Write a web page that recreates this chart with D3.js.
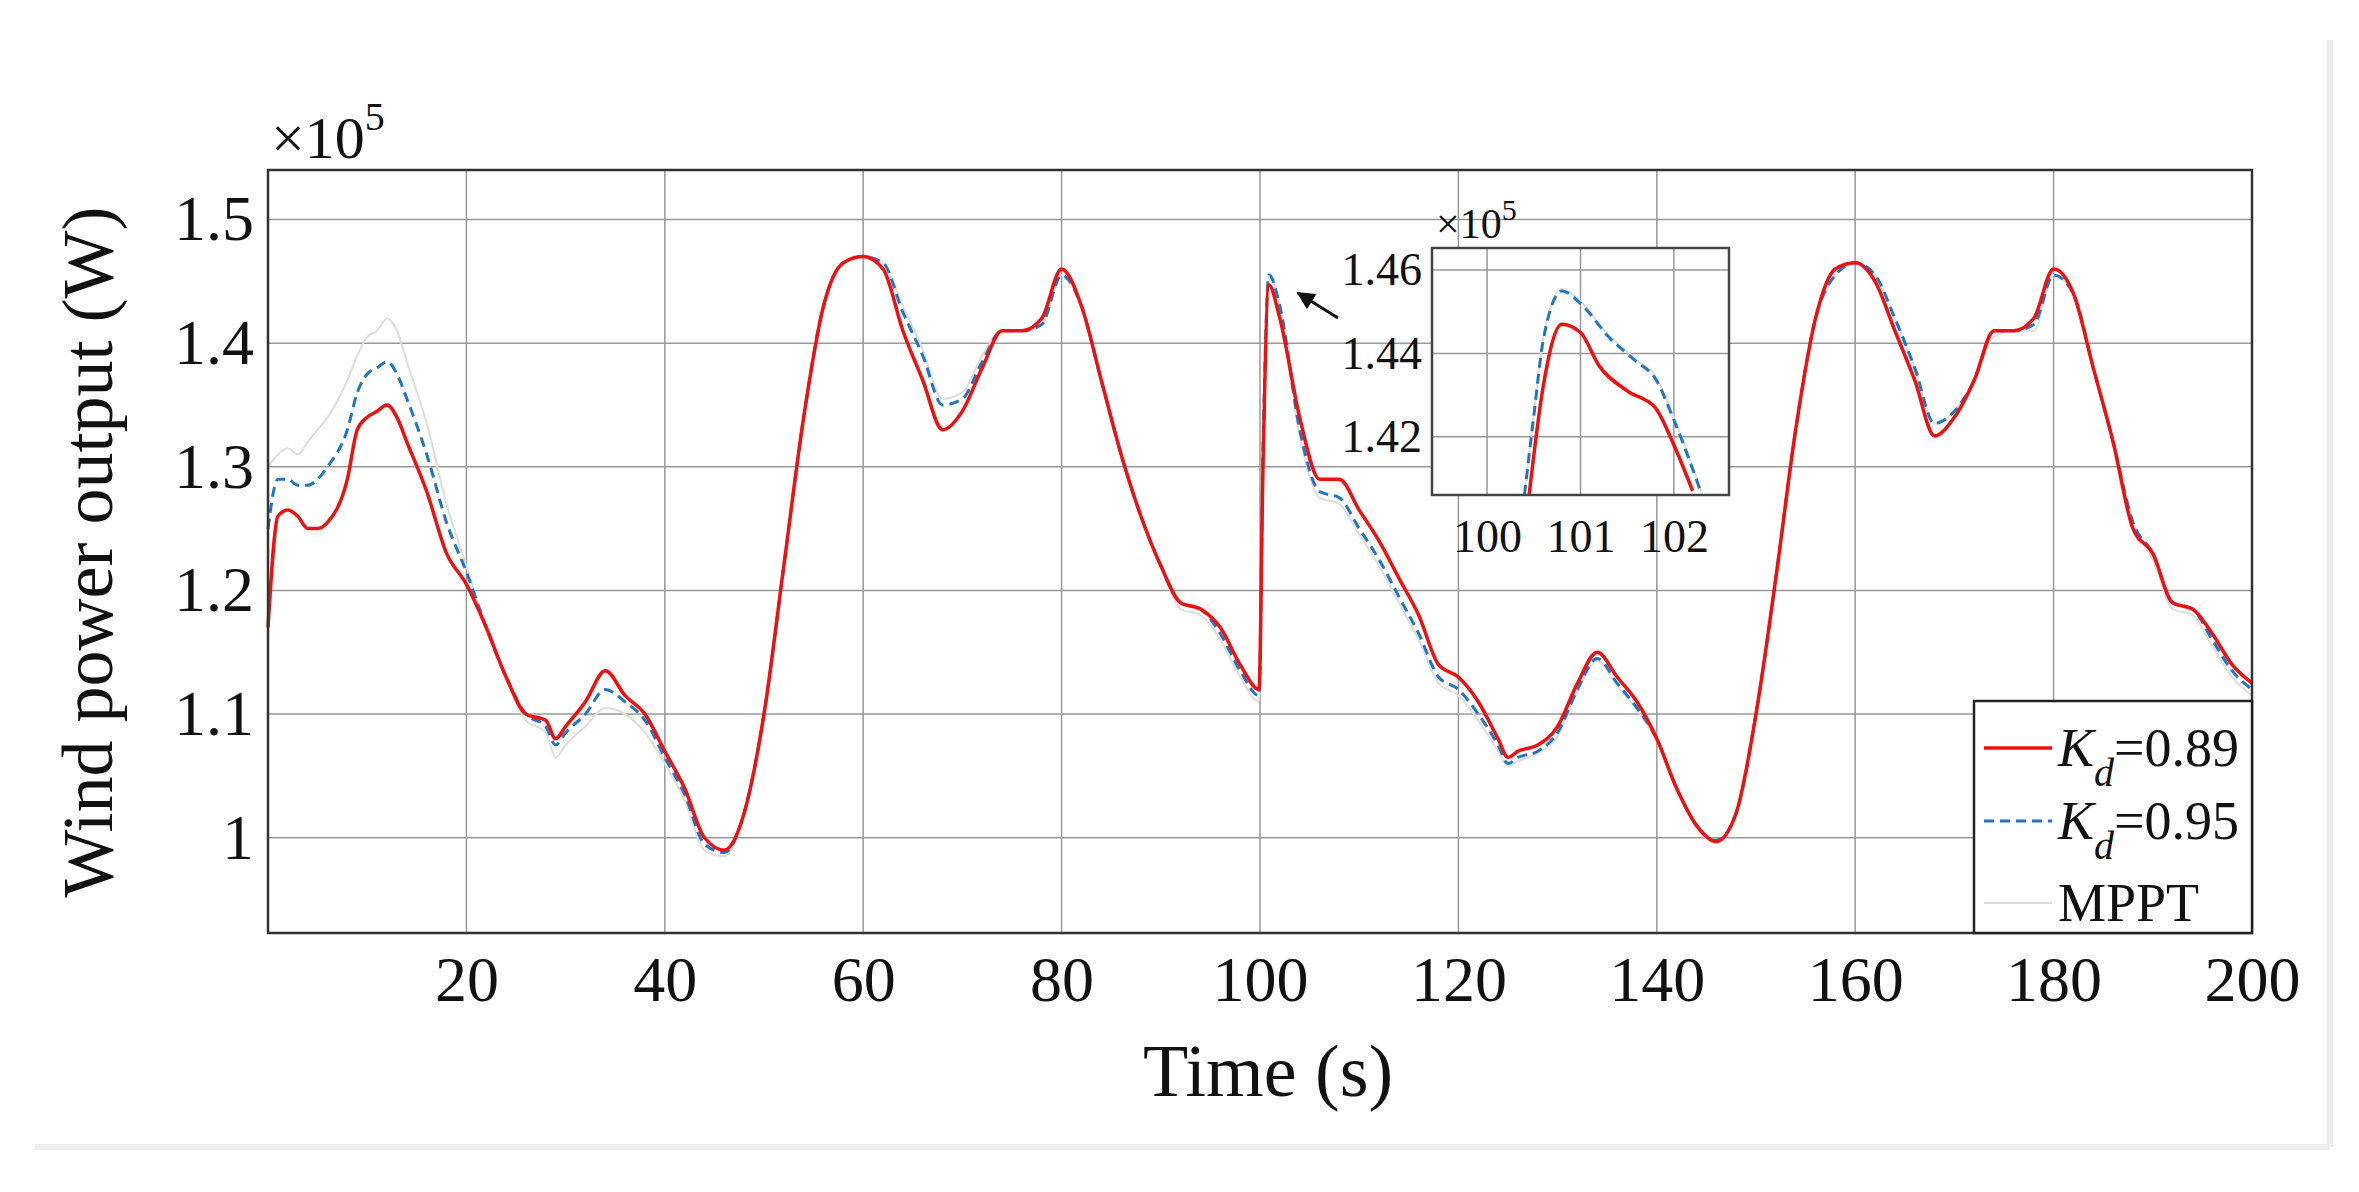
<!DOCTYPE html>
<html><head><meta charset="utf-8">
<script src="https://cdn.jsdelivr.net/npm/d3@7"></script>
<style>body{margin:0;background:#fff}text{font-family:"Liberation Serif","Times New Roman",serif;fill:#111}</style>
</head><body><div id="root"></div>
<script>
// time samples (s) and power (x1e5 W)
var times = [0,1,2,3,4,5,6,8,9,10,11,12,13,14,16,18,20,22,24,26,28,29,30,32,34,36,38,40,42,44,46,48,50,52,54,56,58,60,62,64,66,68,70,72,74,76,78,80,82,84,86,88,90,92,94,96,98,99.9,100.3,100.9,102,104,106,108,110,112,114,116,118,120,122,124,125,126,128,130,132,134,136,138,140,142,144,146,148,150,152,154,156,158,160,162,164,166,168,170,172,174,176,178,180,182,184,186,188,190,192,194,196,198,200];
var kd089 = [1.17,1.26,1.265,1.26,1.25,1.25,1.255,1.29,1.33,1.34,1.345,1.35,1.34,1.32,1.28,1.23,1.205,1.17,1.13,1.10,1.095,1.08,1.09,1.11,1.135,1.115,1.10,1.07,1.04,1.0,0.99,1.02,1.10,1.22,1.34,1.43,1.465,1.47,1.46,1.41,1.37,1.33,1.345,1.38,1.41,1.41,1.42,1.46,1.43,1.37,1.31,1.26,1.22,1.19,1.185,1.17,1.14,1.12,1.30,1.447,1.42,1.34,1.29,1.29,1.265,1.24,1.21,1.18,1.14,1.13,1.11,1.08,1.065,1.07,1.075,1.09,1.125,1.15,1.13,1.11,1.08,1.04,1.01,0.997,1.02,1.10,1.21,1.33,1.42,1.46,1.465,1.45,1.41,1.37,1.325,1.34,1.37,1.41,1.41,1.42,1.46,1.44,1.38,1.32,1.25,1.23,1.19,1.185,1.165,1.14,1.125];
var kd095 = [1.25,1.29,1.29,1.285,1.285,1.29,1.30,1.33,1.36,1.375,1.38,1.385,1.375,1.355,1.31,1.255,1.215,1.17,1.13,1.10,1.09,1.075,1.085,1.10,1.12,1.11,1.095,1.065,1.035,0.995,0.988,1.02,1.10,1.22,1.34,1.43,1.465,1.47,1.465,1.425,1.39,1.35,1.355,1.385,1.41,1.41,1.415,1.455,1.43,1.37,1.31,1.26,1.22,1.19,1.185,1.165,1.135,1.115,1.31,1.455,1.43,1.33,1.28,1.275,1.25,1.225,1.195,1.165,1.13,1.12,1.10,1.075,1.06,1.065,1.07,1.085,1.12,1.145,1.125,1.105,1.08,1.04,1.01,0.998,1.02,1.10,1.21,1.33,1.42,1.455,1.465,1.455,1.42,1.38,1.335,1.345,1.37,1.41,1.41,1.415,1.455,1.44,1.38,1.32,1.255,1.23,1.19,1.185,1.16,1.135,1.12];
var mppt = [1.30,1.31,1.315,1.31,1.32,1.33,1.34,1.37,1.39,1.405,1.41,1.42,1.41,1.385,1.335,1.27,1.22,1.17,1.13,1.095,1.085,1.065,1.075,1.09,1.105,1.10,1.085,1.06,1.03,0.99,0.985,1.02,1.10,1.22,1.34,1.43,1.465,1.47,1.465,1.43,1.395,1.355,1.36,1.39,1.41,1.41,1.415,1.455,1.43,1.37,1.31,1.26,1.22,1.185,1.18,1.16,1.13,1.11,1.31,1.457,1.43,1.325,1.275,1.27,1.245,1.22,1.19,1.16,1.125,1.115,1.095,1.07,1.058,1.062,1.068,1.082,1.118,1.143,1.123,1.103,1.078,1.04,1.008,0.996,1.02,1.10,1.21,1.33,1.42,1.455,1.465,1.455,1.42,1.38,1.335,1.345,1.37,1.405,1.41,1.41,1.455,1.44,1.38,1.32,1.255,1.225,1.185,1.18,1.155,1.13,1.115];
// inset zoom around t = 101 s
var zoomT089 = [100.45,100.6,100.8,101.0,101.2,101.5,101.8,102.0,102.2];
var zoomP089 = [1.406,1.432,1.447,1.445,1.437,1.431,1.427,1.418,1.407];
var zoomT095 = [100.4,100.5,100.6,100.8,101.0,101.3,101.6,101.8,102.0,102.3];
var zoomP095 = [1.406,1.425,1.443,1.455,1.452,1.444,1.438,1.434,1.424,1.406];
var xTicks = [20,40,60,80,100,120,140,160,180,200];
var yTicks = [1,1.1,1.2,1.3,1.4,1.5];
var zxTicks = [100,101,102], zyTicks = [1.42,1.44,1.46];
var legendLabels = ["0.89","0.95","MPPT"];

var W = 2359, H = 1192;
var svg = d3.select('#root').append('svg').attr('width', W).attr('height', H);
svg.append('rect').attr('width', W).attr('height', H).attr('fill', '#fff');
// faint frame of the figure
svg.append('line').attr('x1', 35).attr('x2', 2330).attr('y1', 1147).attr('y2', 1147).attr('stroke', '#eee').attr('stroke-width', 6);
svg.append('line').attr('x1', 2330).attr('x2', 2330).attr('y1', 40).attr('y2', 1147).attr('stroke', '#eee').attr('stroke-width', 6);

var L = 268, R = 2252, T = 170, B = 933;
var x = d3.scaleLinear().domain([0, 200]).range([L, R]);
var y = d3.scaleLinear().domain([0.923, 1.54]).range([B, T]);

var g = svg.append('g');
g.selectAll('.vg').data(xTicks).enter().append('line').attr('x1', x).attr('x2', x).attr('y1', T).attr('y2', B).attr('stroke', '#999').attr('stroke-width', 1.5);
g.selectAll('.hg').data(yTicks).enter().append('line').attr('y1', y).attr('y2', y).attr('x1', L).attr('x2', R).attr('stroke', '#999').attr('stroke-width', 1.5);

var ax = svg.append('g').attr('transform', 'translate(0,' + B + ')')
  .call(d3.axisBottom(x).tickValues(xTicks).tickSize(0).tickPadding(20).tickFormat(d3.format('d')));
ax.select('.domain').remove();
ax.selectAll('text').attr('font-size', 64).attr('dy', '0.75em');
var ay = svg.append('g').attr('transform', 'translate(' + L + ',0)')
  .call(d3.axisLeft(y).tickValues(yTicks).tickSize(0).tickPadding(14).tickFormat(d3.format('')));
ay.select('.domain').remove();
ay.selectAll('text').attr('font-size', 64);

function series(ts, vs){ return ts.map(function(t, i){ return [t, vs[i]]; }); }
var line = d3.line().x(function(d){ return x(d[0]); }).y(function(d){ return y(d[1]); }).curve(d3.curveMonotoneX);
svg.append('path').attr('d', line(series(times, mppt))).attr('fill', 'none').attr('stroke', '#ddd').attr('stroke-width', 2);
svg.append('path').attr('d', line(series(times, kd095))).attr('fill', 'none').attr('stroke', '#1f77c4').attr('stroke-width', 3).attr('stroke-dasharray', '10,6');
svg.append('path').attr('d', line(series(times, kd089))).attr('fill', 'none').attr('stroke', '#f01010').attr('stroke-width', 3.5);

svg.append('rect').attr('x', L).attr('y', T).attr('width', R - L).attr('height', B - T).attr('fill', 'none').attr('stroke', '#333').attr('stroke-width', 2.5);

// exponent label
var ex = svg.append('text').attr('x', 271).attr('y', 158).attr('font-size', 60);
ex.append('tspan').text('\u00d710');
ex.append('tspan').attr('dy', -28).attr('font-size', 40).text('5');

svg.append('text').attr('transform', 'translate(112,552) rotate(-90)').attr('text-anchor', 'middle').attr('font-size', 72).text('Wind power output (W)');
svg.append('text').attr('x', 1268).attr('y', 1096).attr('text-anchor', 'middle').attr('font-size', 74).text('Time (s)');

// arrow
svg.append('defs').append('marker').attr('id', 'ah').attr('viewBox', '0 0 10 10').attr('refX', 9).attr('refY', 5)
  .attr('markerWidth', 6).attr('markerHeight', 6).attr('orient', 'auto').append('path').attr('d', 'M0,0L10,5L0,10z').attr('fill', '#111');
svg.append('line').attr('x1', 1338).attr('y1', 318).attr('x2', 1298).attr('y2', 293).attr('stroke', '#111').attr('stroke-width', 3).attr('marker-end', 'url(#ah)');

// inset
var iL = 1432, iR = 1729, iT = 248, iB = 495;
var zx = d3.scaleLinear().domain([99.41, 102.59]).range([iL, iR]);
var zy = d3.scaleLinear().domain([1.406, 1.4653]).range([iB, iT]);
svg.append('rect').attr('x', iL).attr('y', iT).attr('width', iR - iL).attr('height', iB - iT).attr('fill', '#fff');
var ig = svg.append('g');
ig.selectAll('.zv').data(zxTicks).enter().append('line').attr('x1', zx).attr('x2', zx).attr('y1', iT).attr('y2', iB).attr('stroke', '#999').attr('stroke-width', 1.5);
ig.selectAll('.zh').data(zyTicks).enter().append('line').attr('y1', zy).attr('y2', zy).attr('x1', iL).attr('x2', iR).attr('stroke', '#999').attr('stroke-width', 1.5);
var zl = d3.line().x(function(d){ return zx(d[0]); }).y(function(d){ return zy(d[1]); }).curve(d3.curveMonotoneX);
svg.append('clipPath').attr('id', 'ic').append('rect').attr('x', iL).attr('y', iT).attr('width', iR - iL).attr('height', iB - iT);
svg.append('path').attr('clip-path', 'url(#ic)').attr('d', zl(series(zoomT095, zoomP095.map(function(v){ return v + 0.0005; })))).attr('fill', 'none').attr('stroke', '#ddd').attr('stroke-width', 2);
svg.append('path').attr('clip-path', 'url(#ic)').attr('d', zl(series(zoomT095, zoomP095))).attr('fill', 'none').attr('stroke', '#1f77c4').attr('stroke-width', 3).attr('stroke-dasharray', '10,6');
svg.append('path').attr('clip-path', 'url(#ic)').attr('d', zl(series(zoomT089, zoomP089))).attr('fill', 'none').attr('stroke', '#f01010').attr('stroke-width', 3.5);
svg.append('rect').attr('x', iL).attr('y', iT).attr('width', iR - iL).attr('height', iB - iT).attr('fill', 'none').attr('stroke', '#444').attr('stroke-width', 2.5);
var zax = svg.append('g').attr('transform', 'translate(0,' + iB + ')').call(d3.axisBottom(zx).tickValues(zxTicks).tickSize(0).tickPadding(22).tickFormat(d3.format('d')));
zax.select('.domain').remove(); zax.selectAll('text').attr('font-size', 46).attr('dy', '0.75em');
var zay = svg.append('g').attr('transform', 'translate(' + iL + ',0)').call(d3.axisLeft(zy).tickValues(zyTicks).tickSize(0).tickPadding(10).tickFormat(d3.format('.2f')));
zay.select('.domain').remove(); zay.selectAll('text').attr('font-size', 46);
var zex = svg.append('text').attr('x', 1436).attr('y', 238).attr('font-size', 42);
zex.append('tspan').text('\u00d710'); zex.append('tspan').attr('dy', -18).attr('font-size', 30).text('5');

// legend
var lg = svg.append('g');
lg.append('rect').attr('x', 1974).attr('y', 701).attr('width', 278).attr('height', 232).attr('fill', '#fff').attr('stroke', '#222').attr('stroke-width', 2.5);
var ly = [748, 821, 903];
var lstyles = [{c:'#f01010', w:3.5, d:null}, {c:'#1f77c4', w:3, d:'10,6'}, {c:'#ddd', w:2, d:null}];
legendLabels.forEach(function(lab, i){
  lg.append('line').attr('x1', 1984).attr('x2', 2052).attr('y1', ly[i]).attr('y2', ly[i]).attr('stroke', lstyles[i].c).attr('stroke-width', lstyles[i].w).attr('stroke-dasharray', lstyles[i].d);
  var t = lg.append('text').attr('x', 2058).attr('y', ly[i] + 18).attr('font-size', 54);
  if (i < 2) {
    t.append('tspan').attr('font-style', 'italic').text('K');
    t.append('tspan').attr('font-style', 'italic').attr('font-size', 40).attr('dy', 20).text('d');
    t.append('tspan').attr('dy', -20).text('=' + lab);
  } else {
    t.text(lab);
  }
});
</script></body></html>
